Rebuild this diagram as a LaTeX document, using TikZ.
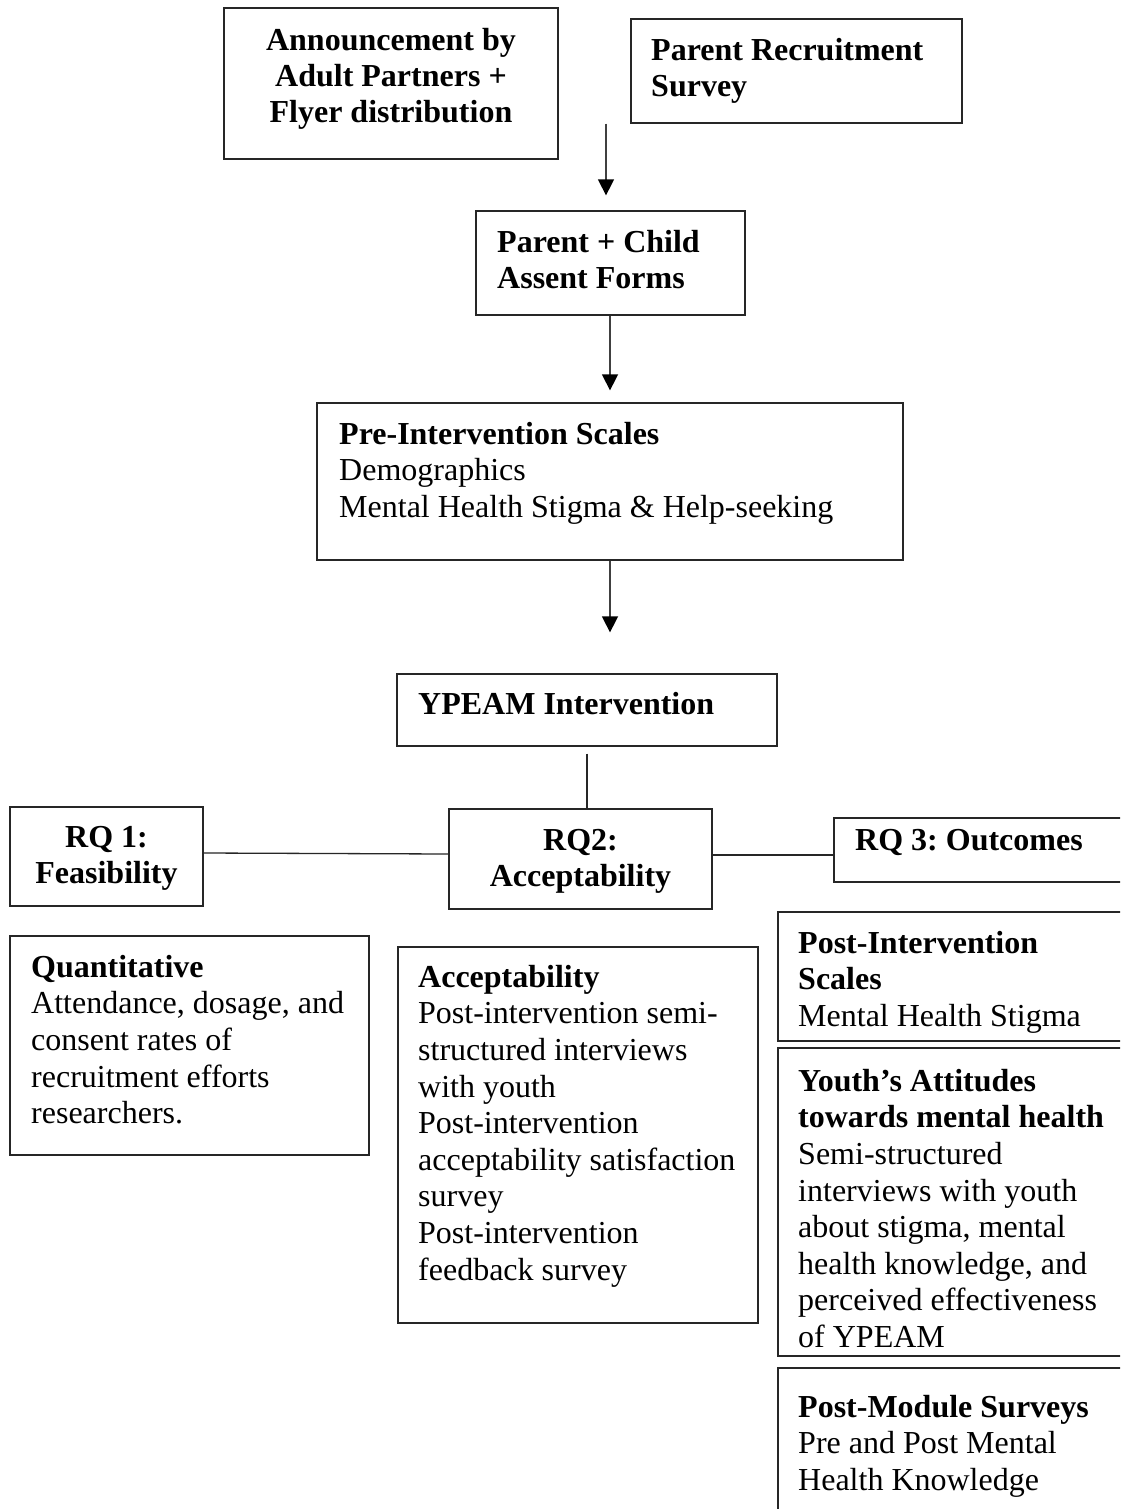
\documentclass[tikz,border=0pt]{standalone}
\usepackage{fontspec}
\setmainfont{Liberation Serif}
\usetikzlibrary{arrows.meta,fit}
\frenchspacing
\begin{document}
\begin{tikzpicture}[x=1pt,y=-1pt,
  box/.style={draw=black!85,line width=1.3pt,inner sep=0pt,rectangle},
  txt/.style={inner sep=0pt,align=left,anchor=north west,font=\fontsize{32}{36.6}\selectfont},
  ctxt/.style={inner sep=0pt,align=center,anchor=north,font=\fontsize{32}{36}\selectfont},
  arr/.style={draw=black!75,line width=1.5pt,-{Triangle[width=16pt,length=16pt,black]}},
  conn/.style={draw=black!85,line width=1.3pt}]
\useasboundingbox (0,0) rectangle (1120,1509);
\fill[white] (0,0) rectangle (1120,1509);
\clip (0,0) rectangle (1120,1509);
\newcommand{\fs}{\rule{0pt}{26pt}}
% boxes
\node[box,fit={(224,8)(558,159)}] (ann) {};
\node[box,fit={(631,19)(962,123)}] (prs) {};
\node[box,fit={(476,211)(745,315)}] (pc) {};
\node[box,fit={(317,403)(903,560)}] (pre) {};
\node[box,fit={(397,674)(777,746)}] (yp) {};
\node[box,fit={(10,807)(203,906)}] (rq1) {};
\node[box,fit={(449,809)(712,909)}] (rq2) {};
\node[box,fit={(834,818)(1130,882)}] (rq3) {};
\node[box,fit={(10,936)(369,1155)}] (quant) {};
\node[box,fit={(398,947)(758,1323)}] (acc) {};
\node[box,fit={(778,912)(1130,1041)}] (pis) {};
\node[box,fit={(778,1048)(1130,1356)}] (youth) {};
\node[box,fit={(778,1368)(1130,1520)}] (pms) {};
% texts
\node[ctxt] (tann) at (391,24) {\fs\textbf{Announcement by}\\\textbf{Adult Partners +}\\\textbf{Flyer distribution}};
\node[txt] (tprs) at (651,34) {\fs\textbf{Parent Recruitment}\\\textbf{Survey}};
\node[txt] (tpc) at (497,226) {\fs\textbf{Parent + Child}\\\textbf{Assent Forms}};
\node[txt] (tpre) at (339,418) {\fs\textbf{Pre-Intervention Scales}\\Demographics\\Mental Health Stigma \& Help-seeking};
\node[txt] (typ) at (418,688) {\fs\textbf{YPEAM Intervention}};
\node[ctxt] (trq1) at (106.5,821) {\fs\textbf{RQ 1:}\\\textbf{Feasibility}};
\node[ctxt] (trq2) at (580.5,824) {\fs\textbf{RQ2:}\\\textbf{Acceptability}};
\node[txt] (trq3) at (855,824) {\fs\textbf{RQ 3: Outcomes}};
\node[txt] (tquant) at (31,951) {\fs\textbf{Quantitative}\\Attendance, dosage, and\\consent rates of\\recruitment efforts\\researchers.};
\node[txt] (tacc) at (418,961) {\fs\textbf{Acceptability}\\Post-intervention semi-\\structured interviews\\with youth\\Post-intervention\\acceptability satisfaction\\survey\\Post-intervention\\feedback survey};
\node[txt] (tpis) at (798,927) {\fs\textbf{Post-Intervention}\\\textbf{Scales}\\Mental Health Stigma};
\node[txt] (tyouth) at (798,1065) {\fs\textbf{Youth’s Attitudes}\\\textbf{towards mental health}\\Semi-structured\\interviews with youth\\about stigma, mental\\health knowledge, and\\perceived effectiveness\\of YPEAM};
\node[txt] (tpms) at (798,1391) {\fs\textbf{Post-Module Surveys}\\Pre and Post Mental\\Health Knowledge};
% connectors
\coordinate (x1) at (606,0);
\coordinate (x2) at (610,0);
\coordinate (x3) at (587,0);
\coordinate (h1) at (0,853);
\coordinate (h2) at (0,854);
\coordinate (h3) at (0,855);
\draw[arr,shorten >=15pt] (x1 |- prs.south) -- (x1 |- pc.north);
\draw[arr,shorten >=12pt] (x2 |- pc.south) -- (x2 |- pre.north);
\draw[arr,shorten >=41pt] (x2 |- pre.south) -- (x2 |- yp.north);
\draw[conn,shorten <=7pt] (x3 |- yp.south) -- (x3 |- rq2.north);
\draw[conn] (rq1.east |- h1) -- (rq2.west |- h2);
\draw[conn] (rq2.east |- h3) -- (rq3.west |- h3);
\end{tikzpicture}
\end{document}
